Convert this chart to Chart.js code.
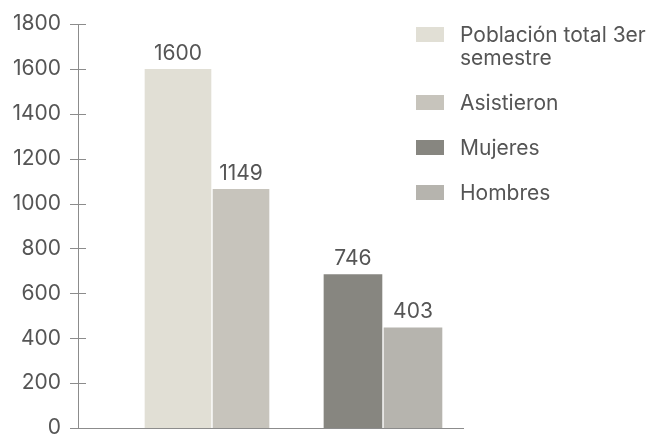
<!DOCTYPE html>
<html>
<head>
<meta charset="utf-8">
<script src="https://cdn.jsdelivr.net/npm/chart.js@4.4.1/dist/chart.umd.min.js"></script>
<style>
  html, body { margin: 0; padding: 0; background: #fff; }
  #wrap { position: relative; width: 656px; height: 435px; }
</style>
</head>
<body>
<div id="wrap"><canvas id="ChartCanvas"></canvas></div>
<script>
// groups on the x axis (not printed)
const grupos = ['Total', 'Por sexo'];
// legend names, one array entry per printed line
const series = [['Población total 3er', 'semestre'], ['Asistieron'], ['Mujeres'], ['Hombres']];
// bar heights as drawn in the picture
const poblacion = [1600, null];
const asistieron = [1065, null];
const mujeres = [null, 685];
const hombres = [null, 448];
// numbers printed above the bars
const etiquetas = ['1600', '1149', '746', '403'];
const colores = ['#e1dfd5', '#c7c4bc', '#878680', '#b6b4ae'];
const grosor = [68, 58, 60, 60];

const FONT = 'Inter';
const TEXT = '#555555';
const AXIS = '#8c8c8c';

const axisTicks = {
  id: 'axisTicks',
  afterDraw: chart => {
    const ctx = chart.ctx;
    const y = chart.scales.y;
    const x0 = chart.chartArea.left;
    ctx.save();
    ctx.strokeStyle = AXIS;
    ctx.lineWidth = 1;
    y.ticks.forEach((t, i) => {
      const py = Math.round(y.getPixelForTick(i)) + 0.5;
      ctx.beginPath();
      ctx.moveTo(x0 - 8, py);
      ctx.lineTo(x0 + 8, py);
      ctx.stroke();
    });
    ctx.restore();
  }
};

const barLabels = {
  id: 'barLabels',
  afterDatasetsDraw: chart => {
    const ctx = chart.ctx;
    ctx.save();
    ctx.font = '21px ' + FONT;
    ctx.fillStyle = TEXT;
    ctx.textAlign = 'center';
    ctx.textBaseline = 'alphabetic';
    chart.data.datasets.forEach((ds, i) => {
      chart.getDatasetMeta(i).data.forEach((bar, j) => {
        if (ds.data[j] == null) return;
        ctx.fillText(ds.etiqueta, bar.x, bar.y - 9);
      });
    });
    ctx.restore();
  }
};

const sideLegend = {
  id: 'sideLegend',
  afterDraw: chart => {
    const ctx = chart.ctx;
    let top = 27;
    ctx.save();
    ctx.font = '21px ' + FONT;
    ctx.textAlign = 'left';
    ctx.textBaseline = 'alphabetic';
    chart.data.datasets.forEach(ds => {
      ctx.fillStyle = ds.backgroundColor;
      ctx.fillRect(416, top, 28, 15);
      ctx.fillStyle = TEXT;
      ds.lineas.forEach((line, k) => {
        ctx.fillText(line, 460, top + 15 + k * 23);
      });
      top += 45 + (ds.lineas.length - 1) * 23;
    });
    ctx.restore();
  }
};

const valores = [poblacion, asistieron, mujeres, hombres];

new Chart(document.getElementById('ChartCanvas'), {
  type: 'bar',
  data: {
    labels: grupos.map((g, i) => i + 1),
    datasets: valores.map((v, i) => ({
      label: series[i].join(' '),
      lineas: series[i],
      etiqueta: etiquetas[i],
      data: v,
      backgroundColor: colores[i],
      borderColor: '#ffffff',
      borderWidth: {left: 1, right: 1, top: 0, bottom: 0},
      barThickness: grosor[i],
    }))
  },
  options: {
    animation: false,
    responsive: true,
    maintainAspectRatio: false,
    skipNull: true,
    layout: {
      padding: {left: 0, top: 24, right: 193, bottom: 7}
    },
    scales: {
      x: {
        type: 'linear',
        offset: false,
        min: 0.2164,
        max: 2.468,
        grid: {display: false, drawTicks: false},
        ticks: {display: false},
        border: {display: true, color: AXIS, width: 1}
      },
      y: {
        min: 0,
        max: 1800,
        grid: {display: false, drawTicks: false},
        border: {display: true, color: AXIS, width: 1},
        ticks: {
          stepSize: 200,
          padding: 17,
          color: TEXT,
          font: {family: FONT, size: 21},
          callback: v => String(v)
        },
        afterFit: scale => {
          scale.width = 78;
          scale.paddingTop = 0;
          scale.paddingBottom = 0;
        }
      }
    },
    plugins: {
      legend: {display: false},
      tooltip: {enabled: false}
    }
  },
  plugins: [axisTicks, barLabels, sideLegend],
});
</script>
</body>
</html>
